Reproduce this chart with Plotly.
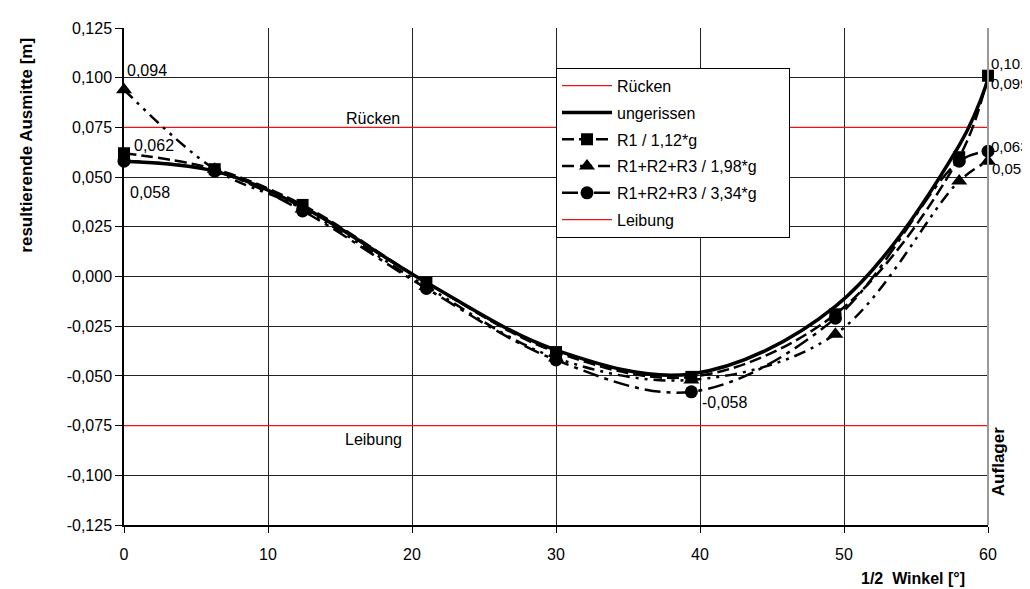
import plotly.graph_objects as go

# ---- data ----
winkel = [0, 6.3, 12.4, 21.0, 30.0, 39.4, 49.4, 58.0, 60.0]
ungerissen = [0.058, 0.053, 0.035, -0.003, -0.037, -0.049, -0.015, 0.066, 0.099]
r1_112 = [0.062, 0.054, 0.036, -0.003, -0.038, -0.0505, -0.019, 0.060, 0.101]
r123_198 = [0.094, 0.054, 0.034, -0.005, -0.041, -0.052, -0.029, 0.048, 0.058]
r123_334 = [0.058, 0.053, 0.033, -0.006, -0.042, -0.058, -0.021, 0.058, 0.063]
ruecken = 0.075
leibung = -0.075
x_range = [0, 60]

y_tickvals = [0.125, 0.100, 0.075, 0.050, 0.025, 0.0, -0.025, -0.050, -0.075, -0.100, -0.125]
y_ticktext = ["0,125", "0,100", "0,075", "0,050", "0,025", "0,000",
              "-0,025", "-0,050", "-0,075", "-0,100", "-0,125"]
x_tickvals = [0, 10, 20, 30, 40, 50, 60]

FONT = "Arial, Liberation Sans, sans-serif"
FS = 16
RED = "rgb(235,20,20)"
PAD = "\u00a0" * 6  # keeps the legend box as wide as in the original


def fmt(v):
    return f"{v:.3f}".replace(".", ",")


fig = go.Figure()

fig.add_trace(go.Scatter(x=x_range, y=[ruecken, ruecken], mode="lines", name="Rücken",
                         line=dict(color=RED, width=1.3), legendgroup="a"))
fig.add_trace(go.Scatter(x=winkel, y=ungerissen, mode="lines", name="ungerissen",
                         line=dict(color="black", width=3.5, shape="spline", smoothing=1),
                         legendgroup="b"))
fig.add_trace(go.Scatter(x=winkel, y=r1_112, mode="lines+markers", name="R1 / 1,12*g",
                         line=dict(color="black", width=2.5, dash="12px,5px", shape="spline", smoothing=1),
                         marker=dict(symbol="square", size=12, color="black"),
                         legendgroup="c", cliponaxis=False))
fig.add_trace(go.Scatter(x=winkel, y=r123_198, mode="lines+markers", name="R1+R2+R3 / 1,98*g",
                         line=dict(color="black", width=2.5, dash="12px,6px,3px,6px,3px,6px",
                                   shape="spline", smoothing=1),
                         marker=dict(symbol="triangle-up", size=14, color="black"),
                         legendgroup="d", cliponaxis=False))
fig.add_trace(go.Scatter(x=winkel, y=r123_334, mode="lines+markers", name="R1+R2+R3 / 3,34*g" + PAD,
                         line=dict(color="black", width=2.5, dash="16px,6px,4px,6px",
                                   shape="spline", smoothing=1),
                         marker=dict(symbol="circle", size=13, color="black"),
                         legendgroup="e", cliponaxis=False))
fig.add_trace(go.Scatter(x=x_range, y=[leibung, leibung], mode="lines", name="Leibung",
                         line=dict(color=RED, width=1.3), legendgroup="f"))

ann = []
# data labels (offsets in pixels relative to the data point)
ann.append(dict(x=winkel[0], y=r123_198[0], text=fmt(r123_198[0]), xanchor="left", yanchor="middle",
                xshift=1, yshift=19, showarrow=False, font_size=FS))
ann.append(dict(x=winkel[0], y=r1_112[0], text=fmt(r1_112[0]), xanchor="left", yanchor="middle",
                xshift=8, yshift=8, showarrow=False, font_size=FS))
ann.append(dict(x=winkel[0], y=r123_334[0], text=fmt(r123_334[0]), xanchor="left", yanchor="middle",
                xshift=4, yshift=-31, showarrow=False, font_size=FS))
ann.append(dict(x=winkel[5], y=r123_334[5], text=fmt(r123_334[5]), xanchor="left", yanchor="middle",
                xshift=9, yshift=-11, showarrow=False, font_size=FS))
ann.append(dict(x=winkel[-1], y=r1_112[-1], text=fmt(r1_112[-1]), xanchor="left", yanchor="middle",
                xshift=1, yshift=12, showarrow=False, font_size=15))
ann.append(dict(x=winkel[-1], y=ungerissen[-1], text=fmt(ungerissen[-1]), xanchor="left", yanchor="middle",
                xshift=1, yshift=-4, showarrow=False, font_size=15))
ann.append(dict(x=winkel[-1], y=r123_334[-1], text=fmt(r123_334[-1]), xanchor="left", yanchor="middle",
                xshift=1, yshift=5, showarrow=False, font_size=15))
ann.append(dict(x=winkel[-1], y=r123_198[-1], text=fmt(r123_198[-1]), xanchor="left", yanchor="middle",
                xshift=2, yshift=-7, showarrow=False, font_size=15))
# reference line labels
ann.append(dict(x=17.3, y=ruecken, text="Rücken", xanchor="center", yanchor="bottom",
                yshift=-2, showarrow=False, font_size=FS))
ann.append(dict(x=17.3, y=leibung, text="Leibung", xanchor="center", yanchor="top",
                yshift=-3, showarrow=False, font_size=FS))
for a in ann:
    size = a.pop("font_size")
    a.update(xref="x", yref="y", font=dict(family=FONT, size=size, color="black"))

ann.append(dict(xref="paper", yref="paper", x=1, y=0.054, xanchor="left", yanchor="bottom",
                xshift=-1, text="<b>Auflager</b>", textangle=-90, showarrow=False,
                font=dict(family=FONT, size=17, color="black")))
ann.append(dict(xref="paper", yref="paper", x=0.913, y=-0.108, xanchor="center", yanchor="middle",
                text="<b>1/2  Winkel [°]</b>", showarrow=False,
                font=dict(family=FONT, size=FS, color="black")))
ann.append(dict(xref="paper", yref="paper", x=-0.113, y=0.764, xanchor="center", yanchor="middle",
                text="<b>resultierende Ausmitte [m]</b>", textangle=-90, showarrow=False,
                font=dict(family=FONT, size=17, color="black")))

fig.update_layout(
    width=1030, height=589,
    margin=dict(l=116, r=50, t=17, b=72),
    paper_bgcolor="white", plot_bgcolor="white",
    font=dict(family=FONT, size=FS, color="black"),
    showlegend=True,
    legend=dict(x=0.5, y=0.92, xanchor="left", yanchor="top",
                bordercolor="black", borderwidth=1, bgcolor="white",
                font=dict(family=FONT, size=FS, color="black"),
                tracegroupgap=3, traceorder="grouped", itemwidth=50),
    annotations=ann,
    shapes=[dict(type="line", xref="paper", yref="paper", x0=1, x1=1, y0=0, y1=1,
                 line=dict(color="#999999", width=2))],
)
fig.update_xaxes(range=[0, 60], tickvals=x_tickvals, showgrid=True, gridcolor="#222222", gridwidth=1,
                 showline=True, linecolor="black", linewidth=1.5, ticks="outside", ticklen=6,
                 tickcolor="black", zeroline=False, tickfont=dict(size=FS), ticklabelstandoff=8)
fig.update_yaxes(range=[-0.125, 0.125], tickvals=y_tickvals, ticktext=y_ticktext, showgrid=True,
                 gridcolor="#222222", gridwidth=1, showline=True, linecolor="black", linewidth=1.5,
                 ticks="outside", ticklen=7, tickcolor="black", zeroline=False, tickfont=dict(size=FS))

fig.write_html("out.html")
